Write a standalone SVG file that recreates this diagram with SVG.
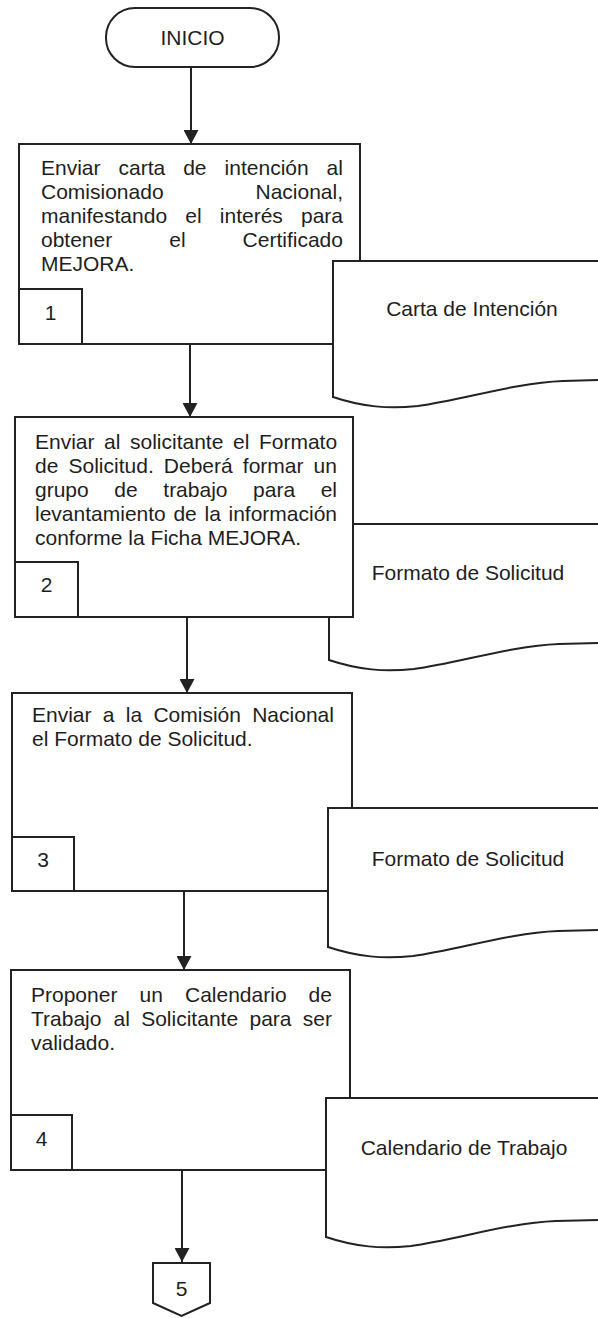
<svg xmlns="http://www.w3.org/2000/svg" width="598" height="1318" viewBox="0 0 598 1318">
<defs>
<style>
.s{fill:#fff;stroke:#222;stroke-width:2}
.t{font-family:"Liberation Sans",Arial,sans-serif;font-size:21px;fill:#1e1e1e}
.c{text-anchor:middle}
.ln{stroke:#222;stroke-width:2;fill:none}
</style>
<marker id="ah" viewBox="0 0 14 15" refX="14" refY="7.5" markerWidth="14" markerHeight="15" markerUnits="userSpaceOnUse" orient="auto">
<path d="M0,0 L14,7.5 L0,15 Z" fill="#222"/>
</marker>
</defs>
<rect width="598" height="1318" fill="#fff"/>

<g id="inicio">
<rect class="s" x="106" y="8" width="173" height="59" rx="29" ry="29"/>
<text class="t c" x="192.5" y="45">INICIO</text>
</g>

<g id="step1">
<rect class="s" x="19" y="144" width="341" height="200"/>
<rect class="s" x="19" y="289" width="63" height="55"/>
<text class="t"><tspan x="41" y="175">Enviar</tspan><tspan x="118.5" y="175">carta</tspan><tspan x="183.2" y="175">de</tspan><tspan x="224.6" y="175">intención</tspan><tspan x="326.6" y="175">al</tspan></text>
<text class="t"><tspan x="41" y="199">Comisionado</tspan><tspan x="255.5" y="199">Nacional,</tspan></text>
<text class="t"><tspan x="41" y="223">manifestando</tspan><tspan x="185.3" y="223">el</tspan><tspan x="219.8" y="223">interés</tspan><tspan x="301" y="223">para</tspan></text>
<text class="t"><tspan x="41" y="247">obtener</tspan><tspan x="169.3" y="247">el</tspan><tspan x="242.6" y="247">Certificado</tspan></text>
<text class="t" x="41" y="271">MEJORA.</text>
<text class="t c" x="50.5" y="320">1</text>
</g>

<g id="doc1">
<path class="s" d="M333,261 H600 V380 L563,381 C513,383 463,400 418,406 C388,409 363,407 333,397 Z"/>
<text class="t c" x="472" y="316">Carta de Intención</text>
</g>

<g id="doc2">
<path class="s" d="M329,524 H600 V643 L559,644 C509,646 459,663 414,669 C384,672 359,670 329,660 Z"/>
<text class="t c" x="468" y="580">Formato de Solicitud</text>
</g>

<g id="step2">
<rect class="s" x="15" y="417" width="338" height="200"/>
<rect class="s" x="15" y="562" width="63" height="55"/>
<text class="t"><tspan x="35" y="449">Enviar</tspan><tspan x="104.1" y="449">al</tspan><tspan x="130" y="449">solicitante</tspan><tspan x="233" y="449">el</tspan><tspan x="258.9" y="449">Formato</tspan></text>
<text class="t"><tspan x="35" y="473">de</tspan><tspan x="68.5" y="473">Solicitud.</tspan><tspan x="163.8" y="473">Deberá</tspan><tspan x="242.8" y="473">formar</tspan><tspan x="313.6" y="473">un</tspan></text>
<text class="t"><tspan x="35" y="497">grupo</tspan><tspan x="114.3" y="497">de</tspan><tspan x="163.3" y="497">trabajo</tspan><tspan x="253.1" y="497">para</tspan><tspan x="320.7" y="497">el</tspan></text>
<text class="t"><tspan x="35" y="521">levantamiento</tspan><tspan x="173.4" y="521">de</tspan><tspan x="204.5" y="521">la</tspan><tspan x="228.5" y="521">información</tspan></text>
<text class="t" x="35" y="545">conforme la Ficha MEJORA.</text>
<text class="t c" x="46.5" y="592">2</text>
</g>

<g id="step3">
<rect class="s" x="12" y="693" width="340" height="198"/>
<rect class="s" x="12" y="837" width="62" height="54"/>
<text class="t"><tspan x="32" y="722">Enviar</tspan><tspan x="102.8" y="722">a</tspan><tspan x="125.8" y="722">la</tspan><tspan x="153.4" y="722">Comisión</tspan><tspan x="252.2" y="722">Nacional</tspan></text>
<text class="t" x="32" y="746">el Formato de Solicitud.</text>
<text class="t c" x="43" y="867">3</text>
</g>

<g id="doc3">
<path class="s" d="M328,808 H600 V930 L558,931 C508,933 458,950 413,956 C383,959 358,957 328,947 Z"/>
<text class="t c" x="468" y="866">Formato de Solicitud</text>
</g>

<g id="step4">
<rect class="s" x="11" y="970" width="339" height="200"/>
<rect class="s" x="11" y="1115" width="61" height="55"/>
<text class="t"><tspan x="31" y="1002">Proponer</tspan><tspan x="139.5" y="1002">un</tspan><tspan x="185" y="1002">Calendario</tspan><tspan x="308.6" y="1002">de</tspan></text>
<text class="t"><tspan x="31" y="1026">Trabajo</tspan><tspan x="113.6" y="1026">al</tspan><tspan x="141.2" y="1026">Solicitante</tspan><tspan x="249.5" y="1026">para</tspan><tspan x="302.8" y="1026">ser</tspan></text>
<text class="t" x="31" y="1050">validado.</text>
<text class="t c" x="41.5" y="1146">4</text>
</g>

<g id="doc4">
<path class="s" d="M326,1098 H600 V1220 L556,1221 C506,1223 456,1240 411,1246 C381,1249 356,1247 326,1237 Z"/>
<text class="t c" x="464" y="1155">Calendario de Trabajo</text>
</g>

<g id="connector5">
<path class="s" d="M153,1263 H210 V1303 L181.5,1316 L153,1303 Z"/>
<text class="t c" x="181.5" y="1296">5</text>
</g>

<g id="connectors">
<line class="ln" x1="191" y1="67" x2="191" y2="144" marker-end="url(#ah)"/>
<line class="ln" x1="190" y1="344" x2="190" y2="417" marker-end="url(#ah)"/>
<line class="ln" x1="187" y1="617" x2="187" y2="693" marker-end="url(#ah)"/>
<line class="ln" x1="184" y1="891" x2="184" y2="970" marker-end="url(#ah)"/>
<line class="ln" x1="182" y1="1170" x2="182" y2="1262" marker-end="url(#ah)"/>
</g>
</svg>
